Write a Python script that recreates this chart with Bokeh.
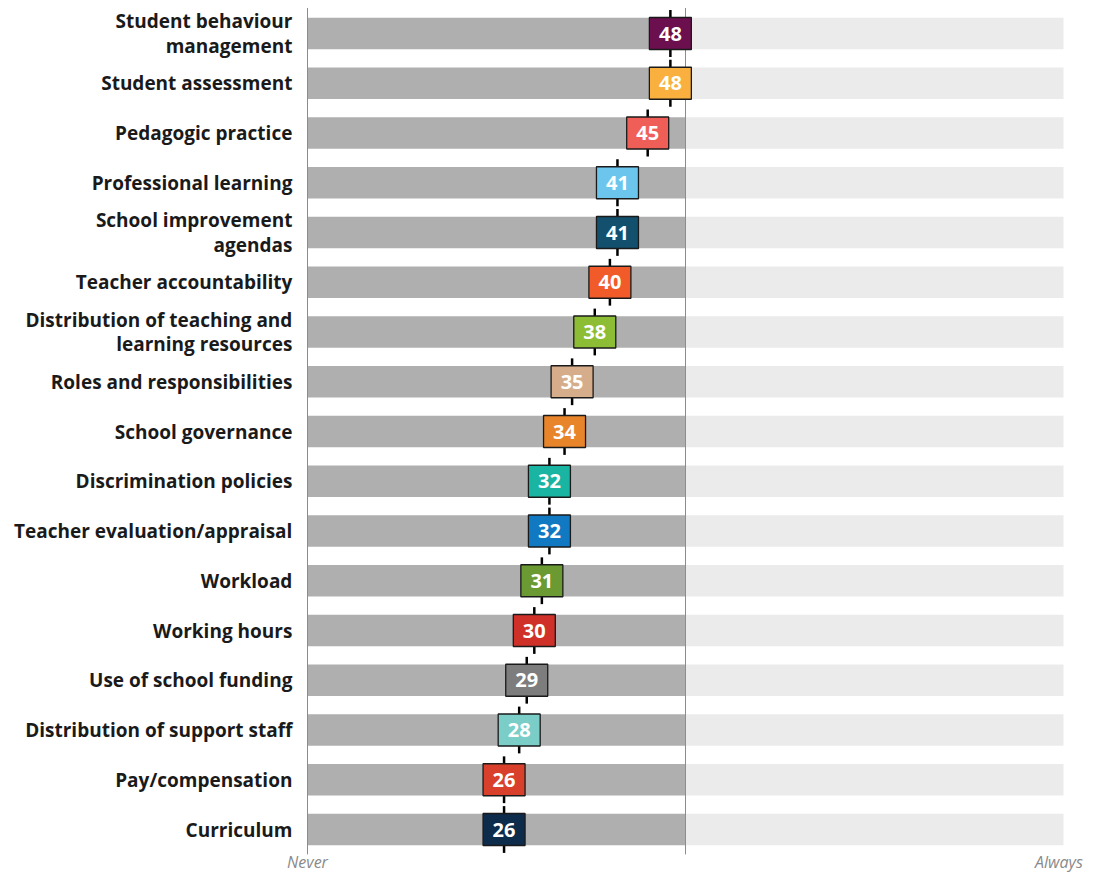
from bokeh.plotting import figure
from bokeh.models import Range1d, ColumnDataSource
from bokeh.core.properties import value
from bokeh.embed import file_html
from bokeh.resources import INLINE

categories = [
    "Student behaviour\nmanagement",
    "Student assessment",
    "Pedagogic practice",
    "Professional learning",
    "School improvement\nagendas",
    "Teacher accountability",
    "Distribution of teaching and\nlearning resources",
    "Roles and responsibilities",
    "School governance",
    "Discrimination policies",
    "Teacher evaluation/appraisal",
    "Workload",
    "Working hours",
    "Use of school funding",
    "Distribution of support staff",
    "Pay/compensation",
    "Curriculum",
]
values = [48, 48, 45, 41, 41, 40, 38, 35, 34, 32, 32, 31, 30, 29, 28, 26, 26]
colors = [
    "#6b0f4e", "#f9b03f", "#ef5f57", "#6cc5ec", "#12506e", "#f15a29",
    "#8dbd35", "#d6ad8b", "#e8842a", "#1ab4a2", "#1079c2", "#6a9a31",
    "#cf3129", "#7d7d7d", "#7bcdc8", "#d8402b", "#0d2b4b",
]
scale_min, scale_mid, scale_max = 0, 50, 100
end_labels = ["Never", "Always"]

n = len(categories)
ypos = list(range(n))

W, H = 1093, 873
px_per_unit = 7.56
x0_px = 307.0  # frame px of value 0
x_start = -x0_px / px_per_unit
x_end = x_start + W / px_per_unit
row_px = 49.75
top_px = 33.0
y_top = -top_px / row_px
y_bottom = y_top + H / row_px

p = figure(width=W, height=H, output_backend="svg", toolbar_location=None,
           x_range=Range1d(x_start, x_end), y_range=Range1d(y_bottom, y_top),
           min_border=0, outline_line_color=None)
p.axis.visible = False
p.grid.visible = False
p.background_fill_color = "white"

src = ColumnDataSource(dict(
    y=ypos, cat=categories, val=values, color=colors,
    lab=[str(v) for v in values],
    zero=[scale_min] * n, mid=[scale_mid] * n, hi=[scale_max] * n,
    lo_t=[y - 0.47 for y in ypos], hi_t=[y + 0.47 for y in ypos],
))

bar_h = 0.63
p.hbar(y="y", left="zero", right="mid", height=bar_h, source=src,
       fill_color="#afafaf", line_color=None)
p.hbar(y="y", left="mid", right="hi", height=bar_h, source=src,
       fill_color="#ebebeb", line_color=None)

line_top = y_top + 0.15
line_bot = n - 1 + 0.5
p.segment(x0=[scale_min, scale_mid], x1=[scale_min, scale_mid],
          y0=[line_top, line_top], y1=[line_bot, line_bot],
          line_color="#8c8c8c", line_width=1)

p.segment(x0="val", x1="val", y0="lo_t", y1="hi_t", source=src,
          line_color="black", line_width=2.5)

p.rect(x="val", y="y", width=42, height=32, width_units="screen",
       height_units="screen", source=src, fill_color="color",
       line_color="#1a1a1a", line_width=1.3)

p.text(x="val", y="y", text="lab", source=src, text_color="white",
       text_font=value("Open Sans"), text_font_style="bold",
       text_font_size="20px", text_align="center", text_baseline="middle")

p.text(x=-2.0, y="y", text="cat", source=src, text_color="#1a1a1a",
       text_font=value("Open Sans"), text_font_style="bold",
       text_font_size="19px", text_align="right", text_baseline="middle",
       text_line_height=0.95)

p.text(x=[scale_min], y=[line_bot - 0.06], text=[end_labels[0]],
       text_color="#8a8a8a", text_font=value("Open Sans"),
       text_font_style="italic", text_font_size="16px",
       text_align="center", text_baseline="top")
p.text(x=[scale_max - 0.6], y=[line_bot - 0.06], text=[end_labels[1]],
       text_color="#8a8a8a", text_font=value("Open Sans"),
       text_font_style="italic", text_font_size="16px",
       text_align="center", text_baseline="top")

open("out.html", "w").write(file_html(p, INLINE))
